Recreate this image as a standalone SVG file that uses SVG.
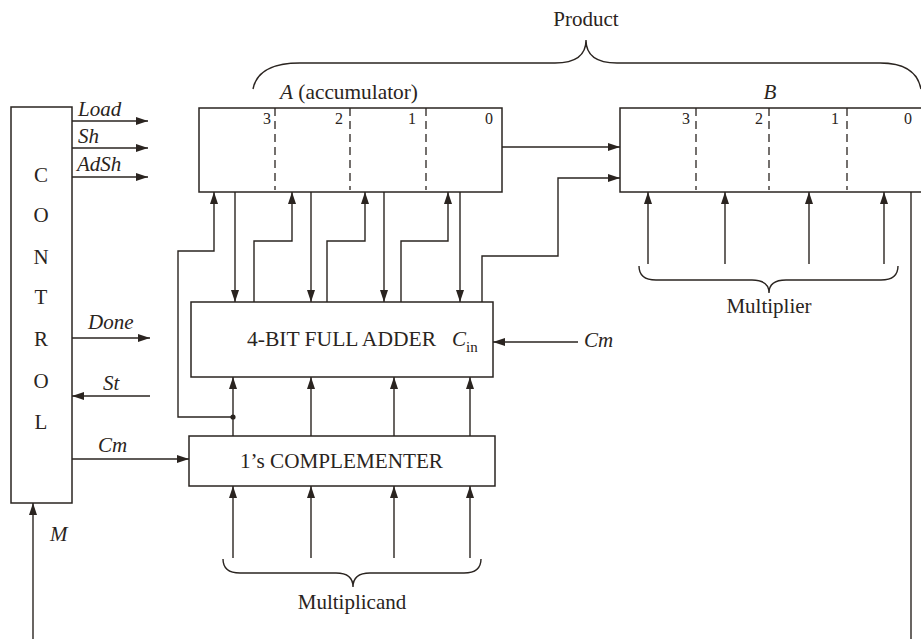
<svg xmlns="http://www.w3.org/2000/svg" width="921" height="639" viewBox="0 0 921 639">
<defs>
<style>
.ln{fill:none;stroke:#2a2420;stroke-width:1.4}
.bx{fill:#fff;stroke:#2a2420;stroke-width:1.5}
.dv{fill:none;stroke:#2a2420;stroke-width:1.3;stroke-dasharray:8,5}
.t{font-family:"Liberation Serif","Times New Roman",serif;font-size:21px;fill:#2a2420}
.i{font-style:italic}
.s{font-size:15px}
.d{font-family:"Liberation Serif","Times New Roman",serif;font-size:16px;fill:#2a2420;text-anchor:end}
.m{text-anchor:middle}
</style>
<marker id="ah" viewBox="0 0 12 8" refX="12" refY="4" markerWidth="12" markerHeight="8" markerUnits="userSpaceOnUse" orient="auto">
<path d="M0,0 L12,4 L0,8 z" fill="#2a2420"/>
</marker>
</defs>
<rect width="921" height="639" fill="#fff"/>

<g id="product-brace">
<path class="ln" d="M253,89 Q258,63 300,63 L555,63 Q586,63 586,40 Q586,63 617,63 L880,63 Q916,63 921,89"/>
<text class="t m" x="586" y="26">Product</text>
</g>

<g id="control">
<rect class="bx" x="11" y="107" width="61" height="396"/>
<text class="t m" x="41" y="182">C</text>
<text class="t m" x="41" y="222">O</text>
<text class="t m" x="41" y="264">N</text>
<text class="t m" x="41" y="304">T</text>
<text class="t m" x="41" y="346">R</text>
<text class="t m" x="41" y="388">O</text>
<text class="t m" x="41" y="429">L</text>
</g>

<g id="reg-a">
<rect class="bx" x="199" y="108" width="303" height="84"/>
<line class="dv" x1="275" y1="108" x2="275" y2="190"/>
<line class="dv" x1="350" y1="108" x2="350" y2="190"/>
<line class="dv" x1="426" y1="108" x2="426" y2="190"/>
<text class="d" x="271" y="124">3</text>
<text class="d" x="343" y="124">2</text>
<text class="d" x="416" y="124">1</text>
<text class="d" x="493" y="124">0</text>
<text class="t" x="280" y="99" textLength="138" lengthAdjust="spacingAndGlyphs"><tspan class="i">A</tspan> (accumulator)</text>
</g>

<g id="reg-b">
<rect class="bx" x="620" y="108" width="320" height="84"/>
<line class="dv" x1="696" y1="108" x2="696" y2="190"/>
<line class="dv" x1="769" y1="108" x2="769" y2="190"/>
<line class="dv" x1="847" y1="108" x2="847" y2="190"/>
<text class="d" x="690" y="124">3</text>
<text class="d" x="763" y="124">2</text>
<text class="d" x="839" y="124">1</text>
<text class="d" x="912" y="124">0</text>
<text class="t i m" x="770" y="99">B</text>
</g>

<g id="adder">
<rect class="bx" x="191" y="302" width="302" height="75"/>
<text class="t" x="247" y="346" textLength="189" lengthAdjust="spacingAndGlyphs">4-BIT FULL ADDER</text>
<text class="t i" x="452" y="346">C</text>
<text class="t s" x="466" y="352">in</text>
</g>

<g id="complementer">
<rect class="bx" x="189" y="436" width="306" height="50"/>
<text class="t" x="240" y="468" textLength="203" lengthAdjust="spacingAndGlyphs">1’s COMPLEMENTER</text>
</g>

<g id="multiplier-brace">
<path class="ln" d="M639,266 Q639,280 656,280 L752,280 Q769,280 769,293 Q769,280 786,280 L881,280 Q898,280 898,266"/>
<text class="t m" x="769" y="313">Multiplier</text>
</g>

<g id="multiplicand-brace">
<path class="ln" d="M223,559 Q223,573 240,573 L336,573 Q353,573 353,587 Q353,573 370,573 L464,573 Q481,573 481,559"/>
<text class="t m" x="352" y="609">Multiplicand</text>
</g>

<g id="connectors">
<line class="ln" x1="72" y1="121" x2="148" y2="121" marker-end="url(#ah)"/>
<line class="ln" x1="72" y1="148" x2="148" y2="148" marker-end="url(#ah)"/>
<line class="ln" x1="72" y1="177" x2="148" y2="177" marker-end="url(#ah)"/>
<line class="ln" x1="72" y1="338" x2="150" y2="338" marker-end="url(#ah)"/>
<line class="ln" x1="150" y1="396" x2="72" y2="396" marker-end="url(#ah)"/>
<line class="ln" x1="72" y1="459" x2="189" y2="459" marker-end="url(#ah)"/>
<line class="ln" x1="33" y1="639" x2="33" y2="503" marker-end="url(#ah)"/>
<line class="ln" x1="502" y1="147" x2="620" y2="147" marker-end="url(#ah)"/>
<polyline class="ln" points="482,302 482,256 558,256 558,178 620,178" marker-end="url(#ah)"/>
<line class="ln" x1="235" y1="192" x2="235" y2="302" marker-end="url(#ah)"/>
<line class="ln" x1="311" y1="192" x2="311" y2="302" marker-end="url(#ah)"/>
<line class="ln" x1="384" y1="192" x2="384" y2="302" marker-end="url(#ah)"/>
<line class="ln" x1="460" y1="192" x2="460" y2="302" marker-end="url(#ah)"/>
<polyline class="ln" points="254,302 254,241 292,241 292,192" marker-end="url(#ah)"/>
<polyline class="ln" points="327,302 327,241 365,241 365,192" marker-end="url(#ah)"/>
<polyline class="ln" points="401,302 401,241 448,241 448,192" marker-end="url(#ah)"/>
<polyline class="ln" points="233,417 178,417 178,251 214,251 214,192" marker-end="url(#ah)"/>
<circle cx="233" cy="417" r="2.6" fill="#2a2420"/>
<line class="ln" x1="233" y1="436" x2="233" y2="377" marker-end="url(#ah)"/>
<line class="ln" x1="311" y1="436" x2="311" y2="377" marker-end="url(#ah)"/>
<line class="ln" x1="394" y1="436" x2="394" y2="377" marker-end="url(#ah)"/>
<line class="ln" x1="470" y1="436" x2="470" y2="377" marker-end="url(#ah)"/>
<line class="ln" x1="233" y1="558" x2="233" y2="486" marker-end="url(#ah)"/>
<line class="ln" x1="311" y1="558" x2="311" y2="486" marker-end="url(#ah)"/>
<line class="ln" x1="394" y1="558" x2="394" y2="486" marker-end="url(#ah)"/>
<line class="ln" x1="470" y1="558" x2="470" y2="486" marker-end="url(#ah)"/>
<line class="ln" x1="648" y1="264" x2="648" y2="192" marker-end="url(#ah)"/>
<line class="ln" x1="725" y1="264" x2="725" y2="192" marker-end="url(#ah)"/>
<line class="ln" x1="809" y1="264" x2="809" y2="192" marker-end="url(#ah)"/>
<line class="ln" x1="884" y1="264" x2="884" y2="192" marker-end="url(#ah)"/>
<line class="ln" x1="911" y1="192" x2="911" y2="639"/>
<line class="ln" x1="578" y1="342" x2="493" y2="342" marker-end="url(#ah)"/>
</g>

<g id="labels">
<text class="t i" x="78" y="116">Load</text>
<text class="t i" x="78" y="143">Sh</text>
<text class="t i" x="77" y="171">AdSh</text>
<text class="t i" x="88" y="329">Done</text>
<text class="t i" x="103" y="390">St</text>
<text class="t i" x="98" y="452">Cm</text>
<text class="t i" x="584" y="347">Cm</text>
<text class="t i" x="50" y="541">M</text>
</g>
</svg>
